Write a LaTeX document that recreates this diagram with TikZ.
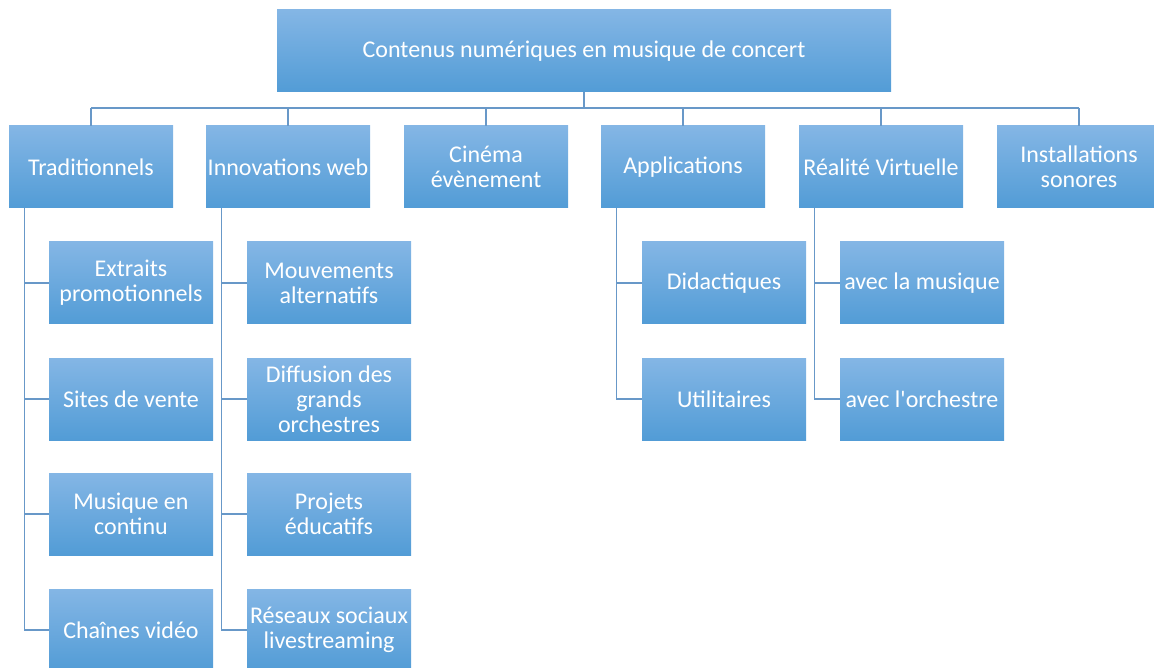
\documentclass[tikz,border=0pt]{standalone}
\usepackage{fontspec}
\setmainfont{Carlito}[Ligatures=TeXOff]
\definecolor{boxtop}{RGB}{132,182,229}
\definecolor{boxbot}{RGB}{82,156,214}
\definecolor{linkc}{RGB}{104,152,200}
\begin{document}
\begin{tikzpicture}[x=1pt,y=-1pt,
  box/.style={shade,top color=boxtop,bottom color=boxbot,draw=none,
    minimum width=164pt,minimum height=82pt,inner sep=0pt,
    text=white,align=center,font=\fontsize{24}{24.8}\selectfont},
  rootbox/.style={box,minimum width=614pt},
  link/.style={draw=linkc,line width=1.3pt}]
\useasboundingbox (0,0) rectangle (1154,668);
\begin{scope}
\clip (0,0) rectangle (1154,668);
% root
\node[rootbox] (root) at (584,51) {Contenus numériques en musique de concert};
% level 1
\node[box] (t1) at (91,167) {Traditionnels};
\node[box] (t2) at (288,167) {Innovations web};
\node[box] (t3) at (486,167) {Cinéma\\évènement};
\node[box] (t4) at (683,167) {Applications};
\node[box] (t5) at (881,167) {Réalité Virtuelle};
\node[box] (t6) at (1079,167) {Installations\\sonores};
% children of Traditionnels
\node[box] (a1) at (131,283) {Extraits\\promotionnels};
\node[box] (a2) at (131,399) {Sites de vente};
\node[box] (a3) at (131,514) {Musique en\\continu};
\node[box] (a4) at (131,630) {Chaînes vidéo};
% children of Innovations web
\node[box] (b1) at (329,283) {Mouvements\\alternatifs};
\node[box] (b2) at (329,399) {Diffusion des\\grands\\orchestres};
\node[box] (b3) at (329,514) {Projets\\éducatifs};
\node[box] (b4) at (329,630) {Réseaux sociaux\\livestreaming};
% children of Applications
\node[box] (c1) at (724,283) {Didactiques};
\node[box] (c2) at (724,399) {Utilitaires};
% children of Réalité Virtuelle
\node[box] (d1) at (922,283) {avec la musique};
\node[box] (d2) at (922,399) {avec l'orchestre};
\end{scope}
% bus
\coordinate (bus) at (0,108);
\draw[link] (root.south) -- (root.south |- bus);
\draw[link] (t1.north |- bus) -- (t6.north |- bus);
\foreach \n in {t1,t2,t3,t4,t5,t6}{
  \draw[link] (\n.north |- bus) -- (\n.north);
}
% spines
\foreach \p/\first/\last in {t1/a1/a4,t2/b1/b4,t4/c1/c2,t5/d1/d2}{
  \draw[link] ([xshift=16pt]\p.south west) -- ([xshift=16pt]\p.south west |- \last.west) -- (\last.west);
}
\foreach \p/\c in {t1/a1,t1/a2,t1/a3,t2/b1,t2/b2,t2/b3,t4/c1,t5/d1}{
  \draw[link] ([xshift=16pt]\p.south west |- \c.west) -- (\c.west);
}
\end{tikzpicture}
\end{document}
